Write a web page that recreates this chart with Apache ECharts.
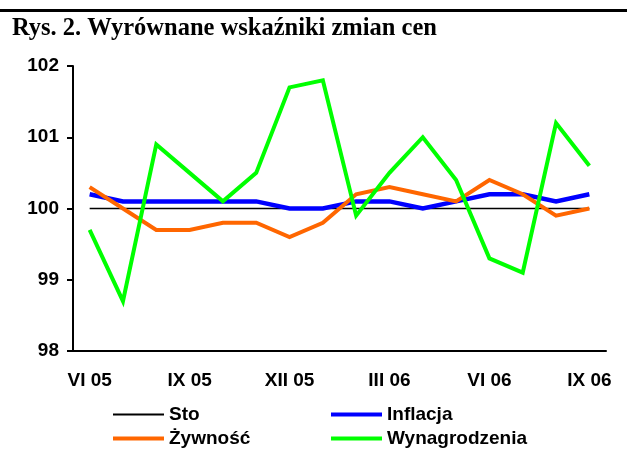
<!DOCTYPE html>
<html>
<head>
<meta charset="utf-8">
<script src="https://cdn.jsdelivr.net/npm/echarts@6/dist/echarts.min.js"></script>
<style>
  html, body { margin: 0; padding: 0; background: #fff; }
  #chart { width: 627px; height: 475px; }
</style>
</head>
<body>
<div id="chart"></div>
<script>
// miesiące VI 05 - IX 06
var months = ['VI 05', 'VII 05', 'VIII 05', 'IX 05', 'X 05', 'XI 05', 'XII 05', 'I 06',
              'II 06', 'III 06', 'IV 06', 'V 06', 'VI 06', 'VII 06', 'VIII 06', 'IX 06'];
var sto = [100, 100, 100, 100, 100, 100, 100, 100, 100, 100, 100, 100, 100, 100, 100, 100];
var inflacja = [100.2, 100.1, 100.1, 100.1, 100.1, 100.1, 100.0, 100.0,
                100.1, 100.1, 100.0, 100.1, 100.2, 100.2, 100.1, 100.2];
var zywnosc = [100.3, 100.0, 99.7, 99.7, 99.8, 99.8, 99.6, 99.8,
               100.2, 100.3, 100.2, 100.1, 100.4, 100.2, 99.9, 100.0];
var wynagrodzenia = [99.7, 98.7, 100.9, 100.5, 100.1, 100.5, 101.7, 101.8,
                     99.9, 100.5, 101.0, 100.4, 99.3, 99.1, 101.2, 100.6];
var yTicks = [98, 102, 1]; // min, max, krok

var axisFont = { fontFamily: 'Liberation Sans, Arial, sans-serif', fontWeight: 'bold', fontSize: 19, color: '#000' };

var chart = echarts.init(document.getElementById('chart'), null, { renderer: 'canvas' });

function lineSeries(name, data, color, width) {
    return {
        name: name,
        type: 'line',
        data: data,
        symbol: 'none',
        animation: false,
        lineStyle: { color: color, width: width, join: 'miter' },
        itemStyle: { color: color }
    };
}

// jedna legenda na pozycję (dwie kolumny, dwa wiersze)
function legendItem(name, left, top, thick) {
    return {
        data: [name],
        left: left,
        top: top,
        padding: 0,
        icon: 'rect',
        itemWidth: 51,
        itemHeight: thick,
        textStyle: Object.assign({ padding: [0, 0, 0, 0] }, axisFont)
    };
}

chart.setOption({
    backgroundColor: '#fff',
    title: {
        text: 'Rys. 2. Wyrównane wskaźniki zmian cen',
        left: 7,
        top: 11,
        textStyle: { fontFamily: 'Liberation Serif, Times New Roman, serif', fontWeight: 'bold', fontSize: 24.5, color: '#000' }
    },
    graphic: [{
        type: 'rect',
        shape: { x: 0, y: 9, width: 627, height: 3 },
        style: { fill: '#000' }
    }],
    grid: { left: 73, right: 21, top: 66, bottom: 124 },
    legend: [
        legendItem('Sto', 113, 405, 2),
        legendItem('Żywność', 113, 429, 4),
        legendItem('Inflacja', 331, 405, 4),
        legendItem('Wynagrodzenia', 331, 429, 4)
    ],
    xAxis: {
        type: 'category',
        data: months,
        boundaryGap: true,
        axisLine: { lineStyle: { color: '#000', width: 2 } },
        axisTick: { interval: 2, length: 6, lineStyle: { color: '#000', width: 2 } },
        axisLabel: Object.assign({ interval: 2, margin: 20 }, axisFont),
        splitLine: { show: false }
    },
    yAxis: {
        type: 'value',
        min: yTicks[0],
        max: yTicks[1],
        interval: yTicks[2],
        axisLine: { show: true, lineStyle: { color: '#000', width: 2 } },
        axisTick: { show: true, length: 6, lineStyle: { color: '#000', width: 2 } },
        axisLabel: Object.assign({ margin: 14 }, axisFont),
        splitLine: { show: false }
    },
    series: [
        lineSeries('Sto', sto, '#000000', 1.5),
        lineSeries('Inflacja', inflacja, '#0000ff', 4.5),
        lineSeries('Żywność', zywnosc, '#ff6600', 4),
        lineSeries('Wynagrodzenia', wynagrodzenia, '#00ff00', 4)
    ]
});
</script>
</body>
</html>
